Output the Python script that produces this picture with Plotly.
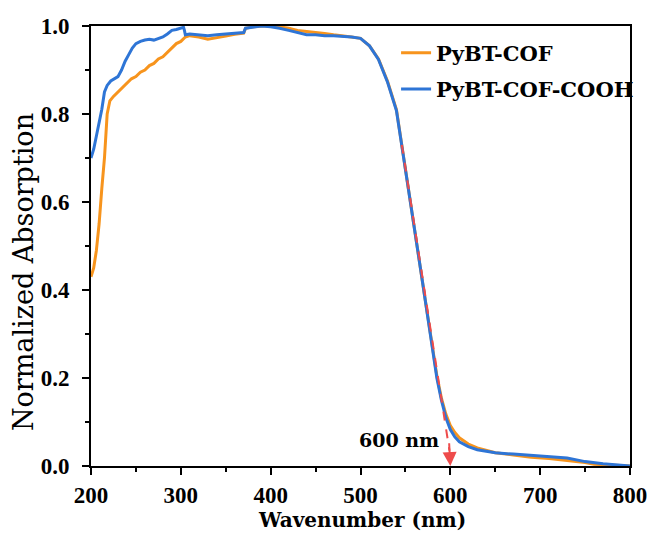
import plotly.graph_objects as go

# ---- data ----
x_cof = [200, 203, 206, 209, 212, 215, 218, 221, 225, 230, 235, 240, 245, 250, 255, 260, 265, 270, 275, 280,
         285, 290, 295, 300, 305, 310, 320, 330, 340, 350, 360, 370, 372, 380, 390, 400, 410, 420, 430, 440,
         450, 460, 470, 480, 490, 500, 510, 520, 530, 540, 545, 550, 560, 570, 580, 585, 590, 595, 600, 605,
         610, 620, 630, 640, 650, 670, 690, 710, 730, 750, 760, 780, 800]
y_cof = [0.43, 0.45, 0.49, 0.55, 0.63, 0.70, 0.80, 0.83, 0.84, 0.85, 0.86, 0.87, 0.88, 0.885, 0.895, 0.90, 0.91,
         0.915, 0.925, 0.93, 0.94, 0.95, 0.96, 0.965, 0.975, 0.978, 0.975, 0.970, 0.973, 0.977, 0.981, 0.984,
         0.995, 0.998, 1.0, 1.0, 0.998, 0.995, 0.99, 0.988, 0.985, 0.983, 0.98, 0.978, 0.975, 0.972, 0.955,
         0.925, 0.875, 0.81, 0.745, 0.676, 0.54, 0.405, 0.27, 0.205, 0.155, 0.118, 0.092, 0.076, 0.064, 0.05,
         0.041, 0.035, 0.03, 0.025, 0.02, 0.017, 0.013, 0.008, 0.004, 0.002, 0.0]

x_cooh = [200, 203, 206, 209, 212, 215, 218, 222, 226, 230, 234, 238, 242, 246, 250, 255, 260, 265, 270, 275,
          280, 285, 290, 295, 300, 303, 304, 305, 310, 320, 330, 340, 350, 360, 370, 372, 380, 390, 400, 410,
          420, 430, 440, 450, 460, 470, 480, 490, 500, 510, 520, 530, 540, 545, 550, 560, 570, 580, 585, 590,
          595, 600, 605, 610, 620, 630, 640, 650, 670, 690, 710, 720, 730, 750, 770, 790, 800]
y_cooh = [0.70, 0.72, 0.75, 0.78, 0.81, 0.85, 0.865, 0.875, 0.88, 0.885, 0.90, 0.92, 0.935, 0.95, 0.96, 0.965,
          0.968, 0.970, 0.968, 0.972, 0.975, 0.982, 0.99, 0.992, 0.995, 0.997, 0.99, 0.98, 0.982, 0.98, 0.978,
          0.98, 0.982, 0.983, 0.985, 0.995, 0.997, 1.0, 0.998, 0.995, 0.99, 0.985, 0.98, 0.98, 0.978, 0.978,
          0.977, 0.975, 0.972, 0.955, 0.924, 0.873, 0.808, 0.743, 0.675, 0.54, 0.405, 0.27, 0.2, 0.15, 0.11,
          0.083, 0.066, 0.055, 0.044, 0.037, 0.033, 0.03, 0.027, 0.024, 0.022, 0.021, 0.018, 0.01, 0.005,
          0.002, 0.0]

series_names = ["PyBT-COF", "PyBT-COF-COOH"]
series_colors = ["#F7941D", "#2E75D6"]

arrow_start = (546, 0.73)
arrow_end = (600, 0.0)
arrow_label = "600 nm"
label_pos = (590, 0.059)

x_ticks = [200, 300, 400, 500, 600, 700, 800]
y_ticks = [0.0, 0.2, 0.4, 0.6, 0.8, 1.0]
x_title = "Wavenumber (nm)"
y_title = "Normalized Absorption"

TICKFONT = "Liberation Serif"
TEXTFONT = "DejaVu Serif"

fig = go.Figure()
fig.add_trace(go.Scatter(x=x_cof, y=y_cof, mode="lines", name="<b>" + series_names[0] + "</b>",
                         legendgroup="a", line=dict(color=series_colors[0], width=3)))
fig.add_trace(go.Scatter(x=x_cooh, y=y_cooh, mode="lines", name="<b>" + series_names[1] + "</b>",
                         legendgroup="b", line=dict(color=series_colors[1], width=3)))

# dashed red arrow
fig.add_trace(go.Scatter(x=[arrow_start[0], arrow_end[0] - 1.0], y=[arrow_start[1], arrow_end[1] + 0.035],
                         mode="lines", showlegend=False, hoverinfo="skip",
                         line=dict(color="#EE4B4B", width=2, dash="dash")))
fig.add_annotation(x=arrow_end[0], y=arrow_end[1], ax=arrow_end[0] - 1.4, ay=arrow_end[1] + 0.055,
                   xref="x", yref="y", axref="x", ayref="y", showarrow=True, arrowhead=2,
                   arrowsize=1.4, arrowwidth=2, arrowcolor="#EE4B4B", text="")
fig.add_annotation(x=label_pos[0], y=label_pos[1], xref="x", yref="y", text="<b>" + arrow_label + "</b>",
                   showarrow=False, xanchor="right", yanchor="middle",
                   font=dict(family=TEXTFONT, size=19, color="black"))

# axis titles
fig.add_annotation(x=0.502, y=-0.122, xref="paper", yref="paper", text="<b>" + x_title + "</b>",
                   showarrow=False, xanchor="center", yanchor="middle",
                   font=dict(family=TEXTFONT, size=20, color="black"))
fig.add_annotation(x=-0.125, y=0.44, xref="paper", yref="paper", text=y_title, textangle=-90,
                   showarrow=False, xanchor="center", yanchor="middle",
                   font=dict(family=TEXTFONT, size=27, color="black"))

axis_common = dict(showline=True, linecolor="black", linewidth=2, mirror=True, ticks="outside",
                   ticklen=7, tickwidth=2, tickcolor="black", showgrid=False, zeroline=False,
                   tickfont=dict(family=TICKFONT, size=23, color="black"))

fig.update_xaxes(range=[200, 800], tickvals=x_ticks, ticktext=[f"<b>{v}</b>" for v in x_ticks],
                 minor=dict(dtick=50, ticks="outside", ticklen=4, tickwidth=2, tickcolor="black"),
                 **axis_common)
fig.update_yaxes(range=[0, 1.0], tickvals=y_ticks, ticktext=[f"<b>{v:.1f}</b>" for v in y_ticks],
                 ticklabelstandoff=8,
                 minor=dict(dtick=0.1, ticks="outside", ticklen=4, tickwidth=2, tickcolor="black"),
                 **axis_common)

fig.update_layout(
    width=659, height=540,
    margin=dict(l=91, r=23, t=26, b=74),
    plot_bgcolor="white", paper_bgcolor="white",
    showlegend=True,
    legend=dict(x=0.566, y=0.985, xanchor="left", yanchor="top", bgcolor="rgba(0,0,0,0)",
                font=dict(family=TEXTFONT, size=21, color="black"), tracegroupgap=6,
                itemwidth=30),
)

fig.write_html("out.html")
